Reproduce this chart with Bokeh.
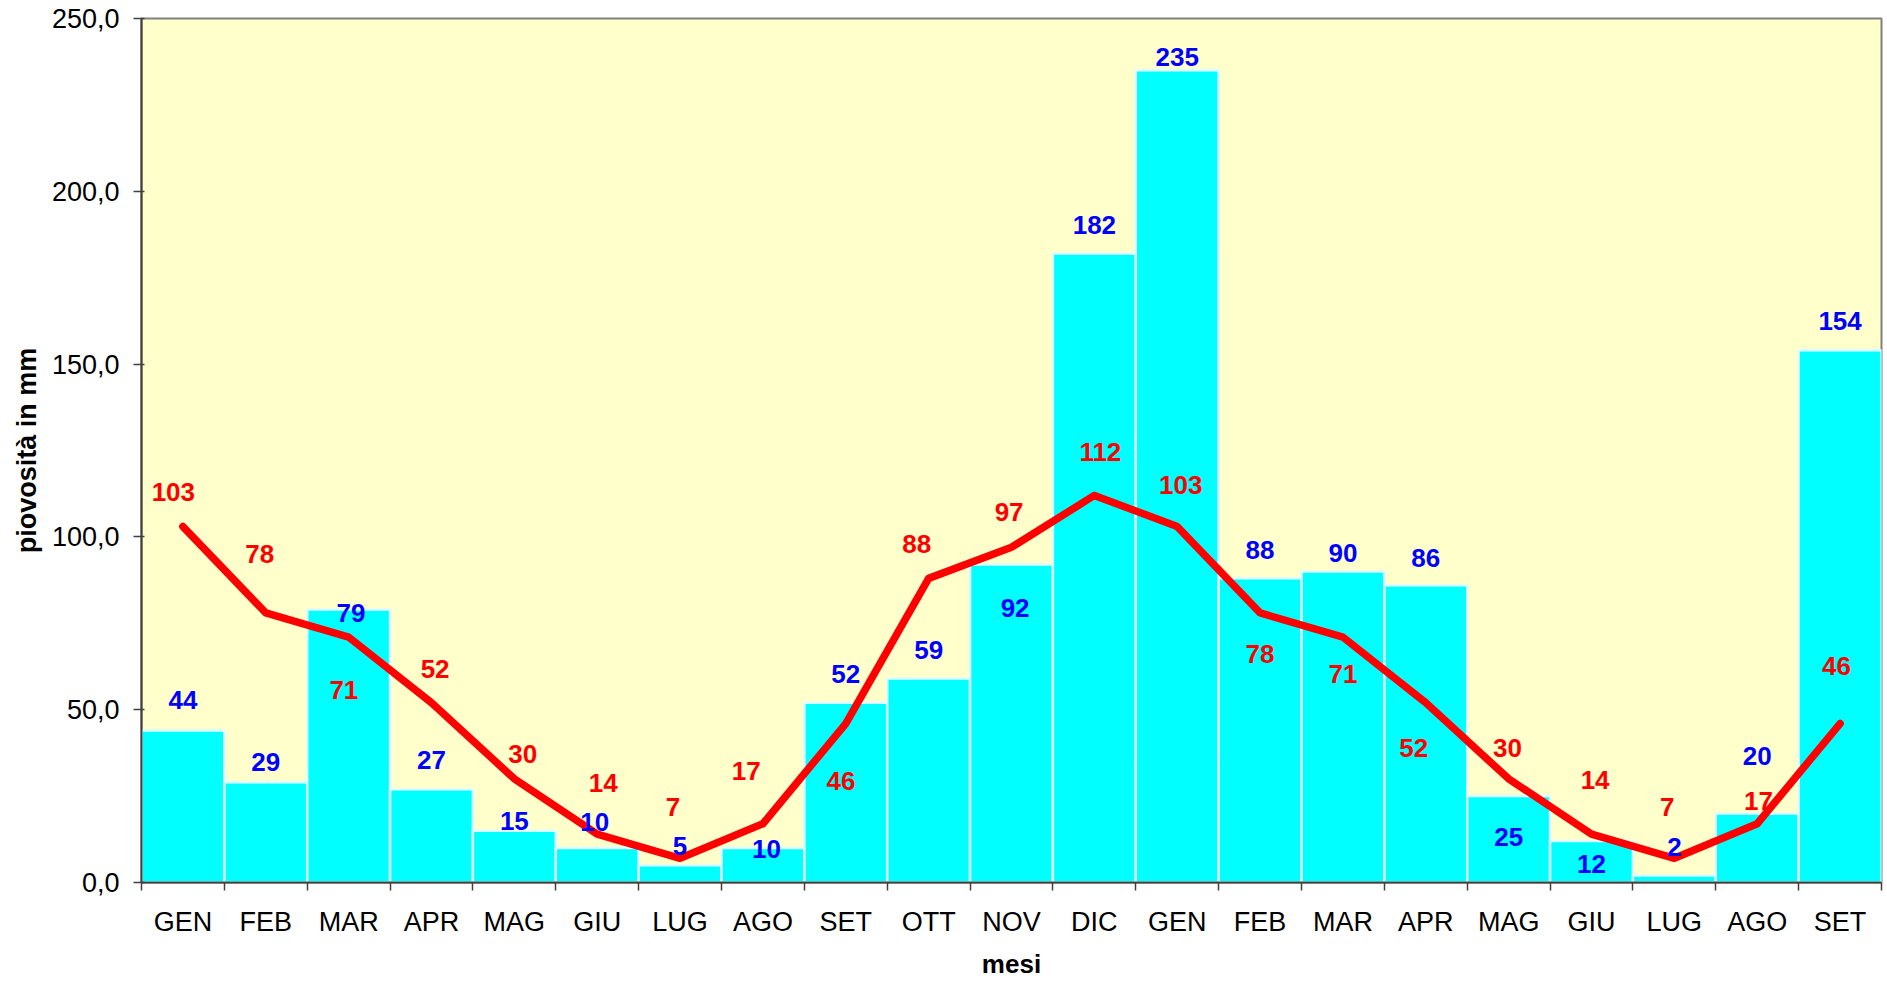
from bokeh.plotting import figure
from bokeh.models import ColumnDataSource, FixedTicker, Range1d
from bokeh.core.properties import value
from bokeh.embed import file_html
from bokeh.resources import INLINE

# ---- data ----
months = ["GEN", "FEB", "MAR", "APR", "MAG", "GIU", "LUG", "AGO", "SET", "OTT", "NOV",
          "DIC", "GEN", "FEB", "MAR", "APR", "MAG", "GIU", "LUG", "AGO", "SET"]
piovosita = [44, 29, 79, 27, 15, 10, 5, 10, 52, 59, 92, 182, 235, 88, 90, 86, 25, 12, 2, 20, 154]
media = [103, 78, 71, 52, 30, 14, 7, 17, 46, 88, 97, 112, 103, 78, 71, 52, 30, 14, 7, 17, 46]
y_ticks = [0, 50, 100, 150, 200, 250]
y_tick_labels = ["0,0", "50,0", "100,0", "150,0", "200,0", "250,0"]

# ---- label placement (screen pixels, relative to the data point) ----
S = 1.2
blue_dy = [-25, -17, 3, -24, -8, -22, -16, 1, -24, -24, 36, -24, -11, -24, -15, -23, 34, 19, -24, -48, -24]
blue_dx = [0, 0, 2, 0, 0, -2, 0, 3, 0, 0, 3, 0, 0, 0, 0, 0, 0, 0, 0, 0, 0]
red_dy = [-29, -49, 44, -28, -21, -43, -43, -44, 48, -29, -29, -36, -35, 34, 31, 38, -26, -45, -43, -19, -48]
red_dx = [-8, -5, -4, 3, 7, 5, -6, -14, -4, -10, -2, 5, 3, 0, 0, -10, -1, 3, -6, 1, -3]

xs = list(range(1, len(months) + 1))
FONT = "Liberation Sans"

src = ColumnDataSource(dict(
    x=xs, p=piovosita, m=media,
    pt=[str(v) for v in piovosita], mt=[str(v) for v in media],
    bdx=[v * S for v in blue_dx], bdy=[v * S for v in blue_dy],
    rdx=[v * S for v in red_dx], rdy=[v * S for v in red_dy],
))

p = figure(width=1887, height=983,
           x_range=Range1d(0.5, len(months) + 0.5), y_range=Range1d(0, 250),
           output_backend="svg", toolbar_location=None,
           min_border_left=141, min_border_right=6, min_border_top=18, min_border_bottom=101)

p.background_fill_color = "#FFFFCC"
p.border_fill_color = "white"
p.outline_line_color = "#808080"
p.outline_line_width = 2
p.xgrid.visible = False
p.ygrid.visible = False

p.vbar(x="x", top="p", bottom=0, width=1.0, source=src,
       fill_color="#00FFFF", line_color="#DDFFFF", line_width=2.5)
p.line(x="x", y="m", source=src, line_color="#FF0000", line_width=7.5,
       line_join="round", line_cap="round")

p.text(x="x", y="p", text="pt", x_offset="bdx", y_offset="bdy", source=src,
       text_color="#0000FF", text_font=value(FONT), text_font_style="bold",
       text_font_size="26px", text_align="center", text_baseline="middle")
p.text(x="x", y="m", text="mt", x_offset="rdx", y_offset="rdy", source=src,
       text_color="#FF0000", text_font=value(FONT), text_font_style="bold",
       text_font_size="26px", text_align="center", text_baseline="middle")

# x axis: labels at centres, ticks at category boundaries
xa = p.xaxis[0]
xa.ticker = FixedTicker(ticks=xs, minor_ticks=[i + 0.5 for i in range(0, len(months) + 1)])
xa.major_label_overrides = {x: m for x, m in zip(xs, months)}
xa.major_tick_line_color = None
xa.major_tick_out = 0
xa.major_tick_in = 0
xa.minor_tick_line_color = "#404040"
xa.minor_tick_line_width = 1.5
xa.minor_tick_out = 8
xa.minor_tick_in = 0
xa.axis_line_color = "#404040"
xa.axis_line_width = 2
xa.major_label_text_font = FONT
xa.major_label_text_font_size = "27px"
xa.major_label_text_color = "black"
xa.major_label_standoff = 16
xa.axis_label = "mesi"
xa.axis_label_text_font = FONT
xa.axis_label_text_font_style = "bold"
xa.axis_label_text_font_size = "26px"
xa.axis_label_text_color = "black"
xa.axis_label_standoff = 9

ya = p.yaxis[0]
ya.ticker = FixedTicker(ticks=y_ticks)
ya.major_label_overrides = dict(zip(y_ticks, y_tick_labels))
ya.major_tick_out = 8
ya.major_tick_in = 3
ya.major_tick_line_color = "#404040"
ya.major_tick_line_width = 1.5
ya.minor_tick_line_color = None
ya.axis_line_color = "#404040"
ya.axis_line_width = 2
ya.major_label_text_font = FONT
ya.major_label_text_font_size = "27px"
ya.major_label_text_color = "black"
ya.major_label_standoff = 14
ya.axis_label = "piovosità in mm"
ya.axis_label_text_font = FONT
ya.axis_label_text_font_style = "bold"
ya.axis_label_text_font_size = "27px"
ya.axis_label_text_color = "black"
ya.axis_label_standoff = 7

open("out.html", "w").write(file_html(p, INLINE))
